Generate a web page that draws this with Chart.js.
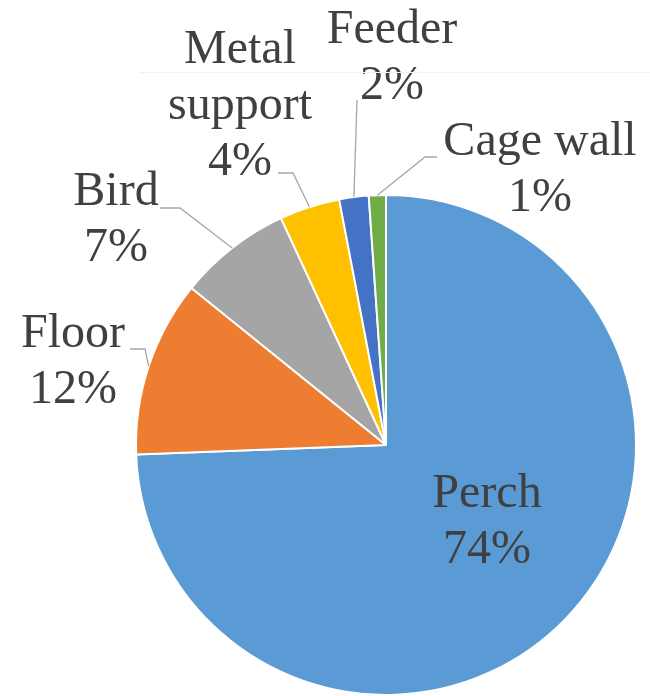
<!DOCTYPE html>
<html>
<head>
<meta charset="utf-8">
<script src="https://cdn.jsdelivr.net/npm/chart.js@4/dist/chart.umd.min.js"></script>
<style>
  html, body { margin: 0; padding: 0; background: #fff; }
  #wrap { position: relative; width: 650px; height: 696px; }
  #rule { position: absolute; left: 140px; top: 72px; width: 510px; height: 1px; background: #f1f1f1; }
</style>
</head>
<body>
<div id="wrap">
  <div id="rule"></div>
  <canvas id="pieChart" width="650" height="696"></canvas>
</div>
<script>
// data
const categories = ['Perch', 'Floor', 'Bird', 'Metal support', 'Feeder', 'Cage wall'];
const shares = [74.4, 11.4, 7.3, 3.9, 1.9, 1.1];
const percentLabels = ['74%', '12%', '7%', '4%', '2%', '1%'];
const colors = ['#5B9BD5', '#ED7D31', '#A5A5A5', '#FFC000', '#4472C4', '#70AD47'];

// label text lines (category split as in the picture)
const labelLines = [['Perch'], ['Floor'], ['Bird'], ['Metal', 'support'], ['Feeder'], ['Cage wall']];

// label placement relative to pie centre: x centre + first baseline; leader start/elbow
const labelLayout = [
  { x: 101, y: 62, leader: null },
  { x: -313, y: -98, leader: [[-256, -96], [-241, -96]] },
  { x: -270, y: -240, leader: [[-226, -237], [-206, -237]] },
  { x: -146, y: -382, leader: [[-108, -272], [-93, -272]] },
  { x: 6, y: -402, leader: [[-29, -345]] },
  { x: 154, y: -290, leader: [[51, -288], [39, -288]] }
];

const labelPlugin = {
  id: 'pieLabels',
  afterDatasetsDraw(chart) {
    const ctx = chart.ctx;
    const arcs = chart.getDatasetMeta(0).data;
    // leader lines first
    ctx.save();
    ctx.strokeStyle = '#A6A6A6';
    ctx.lineWidth = 1.3;
    arcs.forEach((arc, i) => {
      const lay = labelLayout[i];
      if (!lay.leader) return;
      const p = arc.getProps(['x', 'y', 'startAngle', 'endAngle', 'outerRadius'], true);
      const mid = (p.startAngle + p.endAngle) / 2;
      ctx.beginPath();
      ctx.moveTo(p.x + lay.leader[0][0], p.y + lay.leader[0][1]);
      for (let k = 1; k < lay.leader.length; k++) {
        ctx.lineTo(p.x + lay.leader[k][0], p.y + lay.leader[k][1]);
      }
      ctx.lineTo(p.x + Math.cos(mid) * p.outerRadius, p.y + Math.sin(mid) * p.outerRadius);
      ctx.stroke();
    });
    ctx.restore();

    // label text
    ctx.save();
    ctx.font = '48px "Liberation Serif"';
    ctx.fillStyle = '#404040';
    ctx.textAlign = 'center';
    arcs.forEach((arc, i) => {
      const p = arc.getProps(['x', 'y'], true);
      const lay = labelLayout[i];
      const lines = labelLines[i].concat([percentLabels[i]]);
      lines.forEach((t, k) => {
        ctx.fillText(t, p.x + lay.x, p.y + lay.y + k * 56);
      });
    });
    ctx.restore();
  }
};

new Chart(document.getElementById('pieChart'), {
  type: 'pie',
  data: {
    labels: categories,
    datasets: [{
      data: shares,
      backgroundColor: colors,
      borderColor: '#ffffff',
      borderWidth: 2
    }]
  },
  options: {
    responsive: false,
    animation: false,
    layout: { padding: { top: 194, bottom: 0, left: 135, right: 13 } },
    plugins: {
      legend: { display: false },
      tooltip: { enabled: false }
    }
  },
  plugins: [labelPlugin]
});
</script>
</body>
</html>
